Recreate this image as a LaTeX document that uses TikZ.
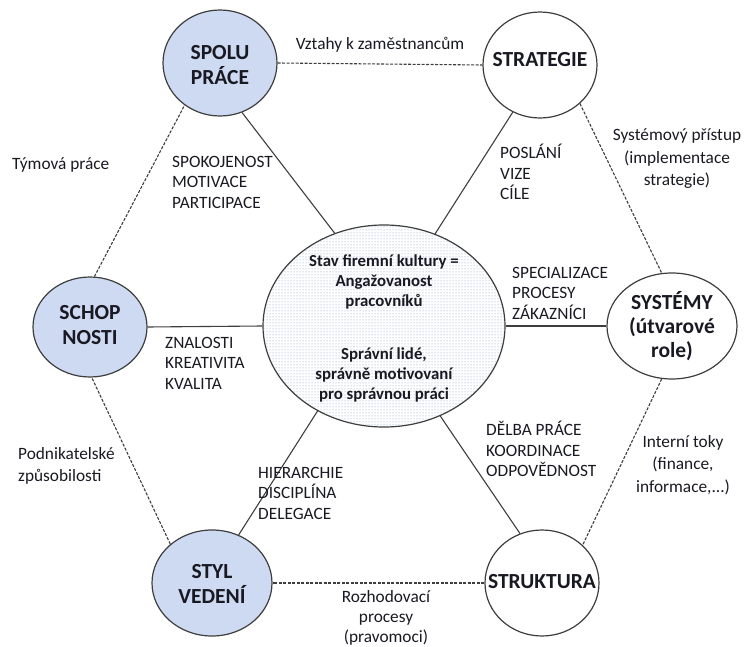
\documentclass[tikz,border=0pt]{standalone}
\usepackage{fontspec}
\setmainfont{Carlito}
\usetikzlibrary{shapes.geometric,patterns}

\definecolor{ink}{RGB}{25,25,35}
\definecolor{edge}{RGB}{62,62,62}
\definecolor{bluefill}{RGB}{206,218,241}
\definecolor{dotblue}{RGB}{115,148,210}

\tikzset{
  hub/.style={ellipse, draw=edge, line width=1.2pt, inner sep=0pt},
  tinted/.style={hub, fill=bluefill},
  plain/.style={hub, fill=white},
  core/.style={hub, preaction={fill=white}, pattern=dots, pattern color=dotblue},
  title/.style={font=\fontsize{21.5}{25.5}\selectfont\bfseries, text=ink, align=center, inner sep=0pt},
  coretext/.style={font=\fontsize{16.8}{20}\selectfont\bfseries, text=ink, align=center, inner sep=0pt},
  note/.style={font=\fontsize{17.3}{20.5}\selectfont, text=ink, align=left, anchor=west, inner sep=0pt},
  cnote/.style={font=\fontsize{17.3}{22.5}\selectfont, text=ink, align=center, inner sep=0pt},
  spoke/.style={draw=edge, line width=1.1pt},
  rim/.style={draw=edge, line width=1.1pt, dash pattern=on 3pt off 1.5pt},
}

\begin{document}
\begin{tikzpicture}[x=1pt, y=-1pt]
  \useasboundingbox (0,0) rectangle (747,647);

  % ellipses
  \node[core, minimum width=242pt, minimum height=202pt] (core) at (384,326) {};
  \node[tinted, minimum width=114pt, minimum height=106pt] (spolu) at (220,63) {};
  \node[plain, minimum width=114pt, minimum height=106pt] (strat) at (540,65) {};
  \node[tinted, minimum width=114pt, minimum height=100pt] (schop) at (90,327) {};
  \node[plain, minimum width=130pt, minimum height=106pt] (syst) at (672,326) {};
  \node[tinted, minimum width=120pt, minimum height=106pt] (styl) at (212,583) {};
  \node[plain, minimum width=114pt, minimum height=106pt] (strukt) at (542,583) {};

  % spokes to the core
  \draw[spoke] (spolu.-66) -- (core.118);
  \draw[spoke] (strat.-120) -- (core.61);
  \draw[spoke] (schop.east) -- (core.west);
  \draw[spoke] (syst.west) -- (core.east);
  \draw[spoke] (styl.61) -- (core.-128);
  \draw[spoke] (strukt.114) -- (core.-58);

  % dashed rim
  \draw[rim] (spolu.east) -- (strat.west);
  \draw[rim] (strat.-44) -- (syst.101);
  \draw[rim] (syst.-101) -- (strukt.43);
  \draw[rim] (strukt.west) -- (styl.east);
  \draw[rim] (styl.137) -- (schop.-88);
  \draw[rim] (schop.85) -- (spolu.-130);

  % titles
  \node[title] (spolu-t) at (220,65) {SPOLU\\PRÁCE};
  \node[title] (strat-t) at (540,60) {STRATEGIE};
  \node[title] (schop-t) at (90,325) {SCHOP\\NOSTI};
  \node[title, font=\fontsize{21.5}{24}\selectfont\bfseries] (syst-t) at (672,326) {SYSTÉMY\\(útvarové\\role)};
  \node[title] (styl-t) at (212,584) {STYL\\VEDENÍ};
  \node[title] (strukt-t) at (542,582) {STRUKTURA};

  \node[coretext] (core-a) at (384,282) {Stav firemní kultury =\\Angažovanost\\pracovníků};
  \node[coretext] (core-b) at (384,375) {Správní lidé,\\správně motivovaní\\pro správnou práci};

  % labels
  \node[cnote] (l-vztahy) at (380,45) {Vztahy k zaměstnancům};
  \node[note] (l-tym) at (12,165) {Týmová práce};
  \node[note] (l-spok) at (172,182) {SPOKOJENOST\\MOTIVACE\\PARTICIPACE};
  \node[note] (l-posl) at (500,172) {POSLÁNÍ\\VIZE\\CÍLE};
  \node[cnote] (l-sys) at (677,159) {Systémový přístup\\(implementace\\strategie)};
  \node[note] (l-spec) at (512,293) {SPECIALIZACE\\PROCESY\\ZÁKAZNÍCI};
  \node[note] (l-znal) at (165,363) {ZNALOSTI\\KREATIVITA\\KVALITA};
  \node[note, font=\fontsize{17.3}{22}\selectfont] (l-podn) at (18,466) {Podnikatelské\\způsobilosti};
  \node[note] (l-hier) at (258,493) {HIERARCHIE\\DISCIPLÍNA\\DELEGACE};
  \node[note] (l-delba) at (486,449) {DĚLBA PRÁCE\\KOORDINACE\\ODPOVĚDNOST};
  \node[cnote] (l-int) at (683,465) {Interní toky\\(finance,\\informace,...)};
  \node[cnote, font=\fontsize{17.3}{20}\selectfont] (l-rozh) at (386,618) {Rozhodovací\\procesy\\(pravomoci)};
\end{tikzpicture}
\end{document}
